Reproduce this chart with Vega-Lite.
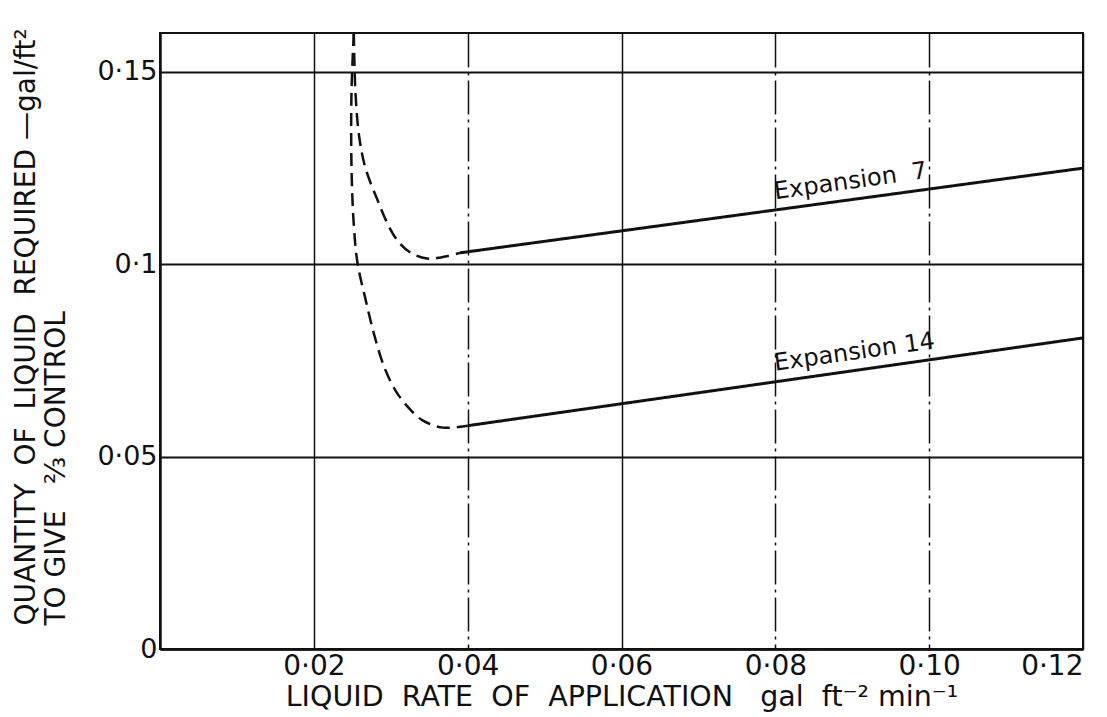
{
  "$schema": "https://vega.github.io/schema/vega-lite/v6.json",
  "width": 923,
  "height": 616,
  "autosize": {"type": "none"},
  "padding": {"left": 160, "top": 33, "right": 24, "bottom": 68},
  "background": "white",
  "config": {
    "font": "DejaVu Sans",
    "view": {"stroke": "#111", "strokeWidth": 2},
    "axis": {
      "domainColor": "#111",
      "domainWidth": 2.5,
      "ticks": false,
      "gridColor": "#111",
      "gridOpacity": 1,
      "labelColor": "#111",
      "titleColor": "#111",
      "labelFont": "DejaVu Sans",
      "titleFont": "DejaVu Sans",
      "labelFontWeight": "normal",
      "titleFontWeight": "normal"
    }
  },
  "datasets": {
    "curves": [
      {"s": "Expansion 7", "p": "dashed", "o": 1, "x": 0.0252, "y": 0.16},
      {"s": "Expansion 7", "p": "dashed", "o": 2, "x": 0.0254, "y": 0.145},
      {"s": "Expansion 7", "p": "dashed", "o": 3, "x": 0.0259, "y": 0.133},
      {"s": "Expansion 7", "p": "dashed", "o": 4, "x": 0.0267, "y": 0.125},
      {"s": "Expansion 7", "p": "dashed", "o": 5, "x": 0.0282, "y": 0.117},
      {"s": "Expansion 7", "p": "dashed", "o": 6, "x": 0.0299, "y": 0.1092},
      {"s": "Expansion 7", "p": "dashed", "o": 7, "x": 0.0312, "y": 0.1053},
      {"s": "Expansion 7", "p": "dashed", "o": 8, "x": 0.0327, "y": 0.1028},
      {"s": "Expansion 7", "p": "dashed", "o": 9, "x": 0.0347, "y": 0.1014},
      {"s": "Expansion 7", "p": "dashed", "o": 10, "x": 0.0365, "y": 0.1017},
      {"s": "Expansion 7", "p": "dashed", "o": 11, "x": 0.039, "y": 0.1029},
      {"s": "Expansion 7", "p": "solid", "o": 12, "x": 0.039, "y": 0.1029},
      {"s": "Expansion 7", "p": "solid", "o": 13, "x": 0.12, "y": 0.1249},
      {"s": "Expansion 14", "p": "dashed", "o": 1, "x": 0.0252, "y": 0.16},
      {"s": "Expansion 14", "p": "dashed", "o": 2, "x": 0.0249, "y": 0.145},
      {"s": "Expansion 14", "p": "dashed", "o": 3, "x": 0.0249, "y": 0.125},
      {"s": "Expansion 14", "p": "dashed", "o": 4, "x": 0.0252, "y": 0.11},
      {"s": "Expansion 14", "p": "dashed", "o": 5, "x": 0.0257, "y": 0.1},
      {"s": "Expansion 14", "p": "dashed", "o": 6, "x": 0.0267, "y": 0.091},
      {"s": "Expansion 14", "p": "dashed", "o": 7, "x": 0.0278, "y": 0.082},
      {"s": "Expansion 14", "p": "dashed", "o": 8, "x": 0.0291, "y": 0.0735},
      {"s": "Expansion 14", "p": "dashed", "o": 9, "x": 0.0306, "y": 0.0672},
      {"s": "Expansion 14", "p": "dashed", "o": 10, "x": 0.0323, "y": 0.0627},
      {"s": "Expansion 14", "p": "dashed", "o": 11, "x": 0.0342, "y": 0.0593},
      {"s": "Expansion 14", "p": "dashed", "o": 12, "x": 0.0368, "y": 0.0575},
      {"s": "Expansion 14", "p": "dashed", "o": 13, "x": 0.04, "y": 0.058},
      {"s": "Expansion 14", "p": "solid", "o": 14, "x": 0.04, "y": 0.058},
      {"s": "Expansion 14", "p": "solid", "o": 15, "x": 0.12, "y": 0.0808}
    ],
    "labels": [
      {"label": "Expansion\u00a0\u00a07", "x": 0.08, "y": 0.1168},
      {"label": "Expansion\u00a014", "x": 0.08, "y": 0.0723}
    ]
  },
  "layer": [
    {
      "data": {"name": "curves"},
      "mark": {"type": "line", "color": "#111", "clip": true, "interpolate": "catmull-rom"},
      "encoding": {
        "x": {
          "field": "x",
          "type": "quantitative",
          "scale": {"domain": [0, 0.12], "nice": false, "zero": false},
          "axis": {
            "values": [0.02, 0.04, 0.06, 0.08, 0.1, 0.12],
            "labelExpr": "replace(format(datum.value, '.2f'), '.', '·')",
            "labelFontSize": 28,
            "labelPadding": 3,
            "labelFlush": true,
            "grid": true,
            "gridWidth": 1.5,
            "gridDash": {
              "condition": {"test": "datum.value == 0.04 || datum.value == 0.08 || datum.value == 0.1", "value": [34, 5, 3, 5]},
              "value": []
            },
            "title": "LIQUID\u00a0\u00a0RATE\u00a0\u00a0OF\u00a0\u00a0APPLICATION\u00a0\u00a0\u00a0gal\u00a0\u00a0ft⁻²\u00a0min⁻¹",
            "titleFontSize": 28.5,
            "titleAnchor": "middle",
            "titleBaseline": "alphabetic",
            "titleY": 56
          }
        },
        "y": {
          "field": "y",
          "type": "quantitative",
          "scale": {"domain": [0, 0.16], "nice": false, "zero": false},
          "axis": {
            "values": [0, 0.05, 0.1, 0.15],
            "labelExpr": "datum.value == 0 ? '0' : replace(format(datum.value, '.2~f'), '.', '·')",
            "labelFontSize": 27,
            "labelPadding": 3,
            "grid": true,
            "gridWidth": 1.8,
            "title": ["QUANTITY\u00a0\u00a0OF\u00a0\u00a0LIQUID\u00a0\u00a0REQUIRED\u00a0—gal/ft²", "TO\u00a0GIVE\u00a0\u00a0\u00a0⅔\u00a0CONTROL"],
            "titleFontSize": 28,
            "titleLineHeight": 30,
            "titleAngle": 270,
            "titleAlign": "left",
            "titleBaseline": "top",
            "titleX": -148,
            "titleY": 592
          }
        },
        "detail": {"field": "s"},
        "order": {"field": "o", "type": "quantitative"},
        "strokeDash": {
          "field": "p",
          "type": "nominal",
          "scale": {"domain": ["dashed", "solid"], "range": [[13, 7], [1, 0]]},
          "legend": null
        },
        "strokeWidth": {
          "field": "p",
          "type": "nominal",
          "scale": {"domain": ["dashed", "solid"], "range": [2.5, 3]},
          "legend": null
        }
      }
    },
    {
      "data": {"name": "labels"},
      "mark": {"type": "text", "align": "left", "baseline": "alphabetic", "angle": -8, "fontSize": 24, "font": "DejaVu Sans", "color": "#111"},
      "encoding": {
        "x": {"field": "x", "type": "quantitative"},
        "y": {"field": "y", "type": "quantitative"},
        "text": {"field": "label"}
      }
    }
  ]
}
